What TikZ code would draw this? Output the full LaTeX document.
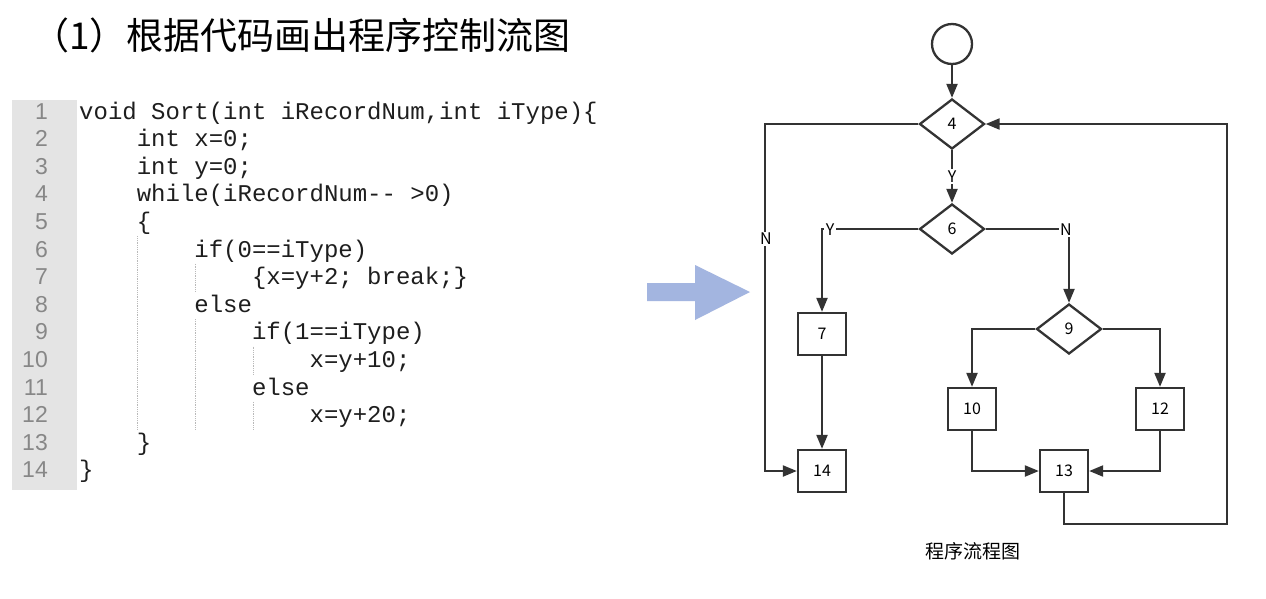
\documentclass[tikz,border=0pt]{standalone}
\usepackage{fontspec}
\setmainfont{Liberation Sans}
\newfontfamily\cjk{Noto Sans CJK SC}
\newfontfamily\codefont{Liberation Mono}
\newfontfamily\numfont{Liberation Sans}
\usetikzlibrary{shapes.geometric,arrows.meta}
\definecolor{ln}{RGB}{51,51,51}
\definecolor{gut}{RGB}{228,228,228}
\definecolor{lnum}{RGB}{135,135,135}
\definecolor{guidec}{RGB}{185,185,185}
\definecolor{barrow}{RGB}{163,181,224}
\definecolor{codec}{RGB}{30,30,30}
\begin{document}
\begin{tikzpicture}[x=1pt,y=-1pt,
  box/.style={draw=ln,line width=2.3pt,minimum width=48pt,minimum height=42pt,inner sep=0pt,font=\cjk\fontsize{16}{16}\selectfont},
  dia/.style={diamond,draw=ln,line width=2.3pt,minimum width=65pt,minimum height=50pt,inner sep=0pt,font=\cjk\fontsize{16}{16}\selectfont},
  startc/.style={circle,draw=ln,line width=2.3pt,minimum size=40pt,inner sep=0pt},
  conn/.style={draw=ln,line width=2.1pt,-{Triangle[length=14pt,width=11pt]}},
  lab/.style={fill=white,inner sep=1.5pt,font=\cjk\fontsize{16}{16}\selectfont},
  codeline/.style={anchor=base west,inner sep=0pt,text=codec,font=\codefont\fontsize{24}{28}\selectfont},
  numline/.style={anchor=base east,inner sep=0pt,text=lnum,font=\numfont\fontsize{23}{28}\selectfont},
  guideline/.style={draw=guidec,line width=0.8pt,densely dotted}
]
\useasboundingbox (0,0) rectangle (1266,598);
\fill[white] (0,0) rectangle (1266,598);

% title
\node[anchor=west,inner sep=0pt,font=\cjk\fontsize{37}{37}\selectfont] (title) at (32,35) {（1）根据代码画出程序控制流图};

% code gutter
\fill[gut] (12,100) rectangle (77,490);
\foreach \i in {1,...,14}
  \node[numline] (n\i) at (48,{119+(\i-1)*27.6}) {\i};

% indent guides
\draw[guideline] (137.6,236.2) -- (137.6,429.4);
\draw[guideline] (195.2,263.8) -- (195.2,291.4);
\draw[guideline] (195.2,319) -- (195.2,429.4);
\draw[guideline] (253.8,346.6) -- (253.8,374.2);
\draw[guideline] (253.8,401.8) -- (253.8,429.4);

% code
\node[codeline] (c1) at (79,119) {void Sort(int iRecordNum,int iType)\{};
\node[codeline] (c2) at (136.6,146.6) {int x=0;};
\node[codeline] (c3) at (136.6,174.2) {int y=0;};
\node[codeline] (c4) at (136.6,201.8) {while(iRecordNum-{}- >0)};
\node[codeline] (c5) at (136.6,229.4) {\{};
\node[codeline] (c6) at (194.2,257) {if(0==iType)};
\node[codeline] (c7) at (251.8,284.6) {\{x=y+2; break;\}};
\node[codeline] (c8) at (194.2,312.2) {else};
\node[codeline] (c9) at (251.8,339.8) {if(1==iType)};
\node[codeline] (c10) at (309.4,367.4) {x=y+10;};
\node[codeline] (c11) at (251.8,395) {else};
\node[codeline] (c12) at (309.4,422.6) {x=y+20;};
\node[codeline] (c13) at (136.6,450.2) {\}};
\node[codeline] (c14) at (79,477.8) {\}};

% big blue arrow
\fill[barrow] (647,283) -- (695,283) -- (695,265) -- (750,292) -- (695,320) -- (695,301) -- (647,301) -- cycle;

% flowchart nodes
\node[startc] (start) at (952,44) {};
\node[dia] (d4) at (952,124) {4};
\node[dia] (d6) at (952,229) {6};
\node[box] (b7) at (822,334) {7};
\node[box] (b14) at (822,471) {14};
\node[dia] (d9) at (1069,329) {9};
\node[box] (b10) at (972,409) {10};
\node[box] (b12) at (1160,409) {12};
\node[box] (b13) at (1064,471) {13};
\coordinate (nl) at (765,124);
\coordinate (lb) at (1227,524);

% connectors
\draw[conn] (start) -- (d4);
\draw[conn] (d4) -- node[lab] {Y} (d6);
\draw[conn] (d6.west) -| (b7.north);
\node[lab] (ly6) at (830,230) {Y};
\draw[conn] (d6.east) -| (d9.north);
\node[lab] (ln6) at (1066,230) {N};
\draw[conn] (d4.west) -- (nl) |- (b14.west);
\node[lab] (ln4) at (766,239) {N};
\draw[conn] (b7) -- (b14);
\draw[conn] (d9.west) -| (b10.north);
\draw[conn] (d9.east) -| (b12.north);
\draw[conn] (b10.south) |- (b13.west);
\draw[conn] (b12.south) |- (b13.east);
\draw[conn] (b13.south) |- (lb) |- (d4.east);

% caption
\node[font=\cjk\fontsize{19}{19}\selectfont] (cap) at (973,551) {程序流程图};
\end{tikzpicture}
\end{document}
